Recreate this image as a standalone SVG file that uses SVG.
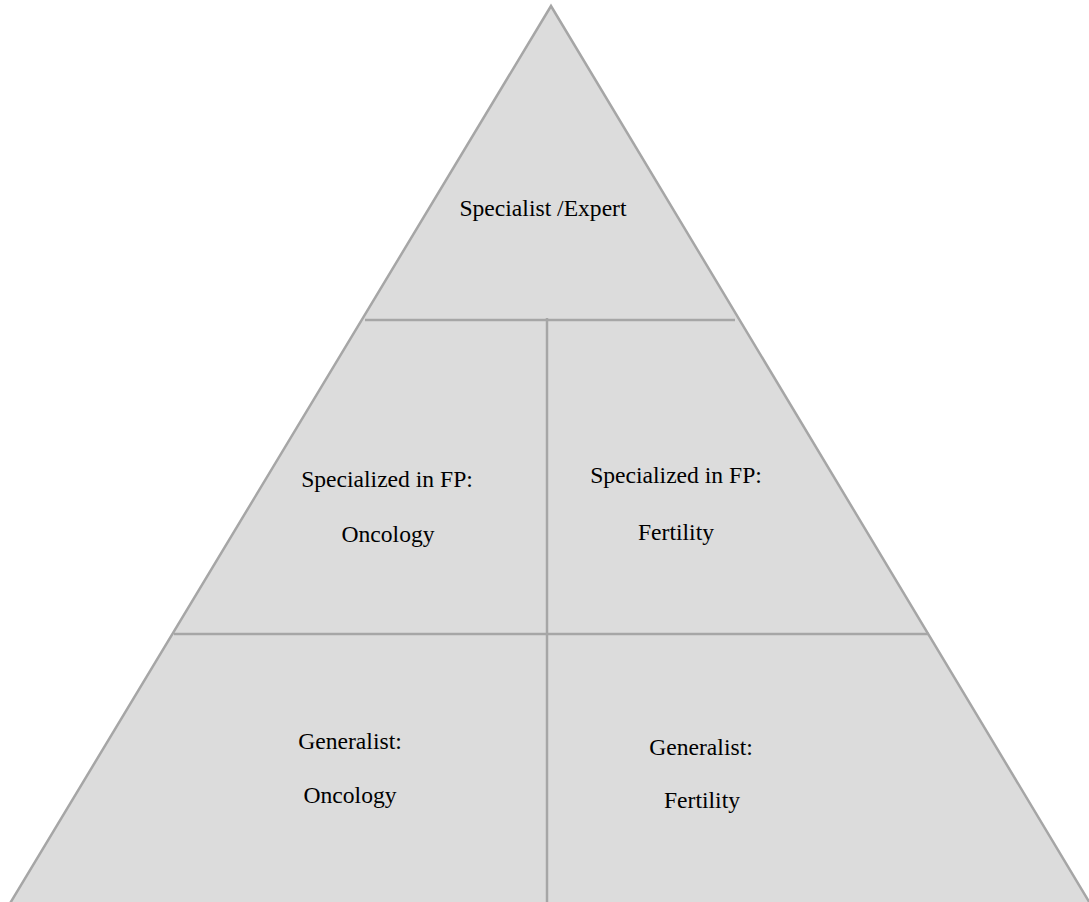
<svg xmlns="http://www.w3.org/2000/svg" width="1089" height="902" viewBox="0 0 1089 902">
<style>
.edge{stroke:#a6a6a6;stroke-width:2.5;fill:none}
.t{font-family:"Liberation Serif","Times New Roman",serif;font-size:23.6px;fill:#000;text-anchor:middle}
</style>
<rect width="1089" height="902" fill="#fff"/>
<g id="pyramid">
<polygon points="551,6 6,910 1094,910" fill="#dcdcdc" stroke="#a6a6a6" stroke-width="2.5"/>
</g>
<g id="dividers">
<line class="edge" x1="365" y1="320" x2="735" y2="320"/>
<line class="edge" x1="174" y1="634" x2="929" y2="634"/>
<line class="edge" x1="547" y1="318" x2="547" y2="902"/>
</g>
<g id="top"><text class="t" x="543" y="216">Specialist /Expert</text></g>
<g id="mid-left"><text class="t" x="387" y="487">Specialized in FP:</text><text class="t" x="388" y="542">Oncology</text></g>
<g id="mid-right"><text class="t" x="676" y="483">Specialized in FP:</text><text class="t" x="676" y="540">Fertility</text></g>
<g id="bottom-left"><text class="t" x="350" y="749">Generalist:</text><text class="t" x="350" y="803">Oncology</text></g>
<g id="bottom-right"><text class="t" x="701" y="755">Generalist:</text><text class="t" x="702" y="808">Fertility</text></g>
</svg>
